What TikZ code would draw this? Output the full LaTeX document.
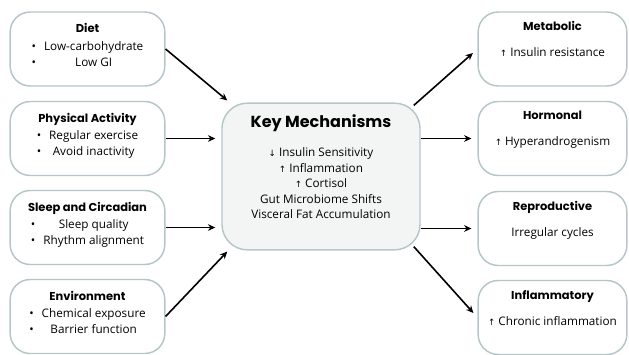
\documentclass[tikz,border=0pt]{standalone}
\usepackage{fontspec}
\setmainfont{Open Sans}
\newfontfamily\headfont{Poppins}
\newfontfamily\symfont{DejaVu Sans}
\usetikzlibrary{positioning,arrows.meta}
\definecolor{boxline}{HTML}{B5C6C8}
\definecolor{keyfill}{HTML}{F3F5F5}
\newcommand{\upar}{{\symfont\fontsize{6.5}{6.5}\selectfont ↑}}
\newcommand{\dnar}{{\symfont\fontsize{6.5}{6.5}\selectfont ↓}}
\newcommand{\headtxt}[1]{{\headfont\bfseries\fontsize{8.6}{12}\selectfont #1}}
\newcommand{\bullets}[2]{\begin{tabular}[t]{@{}c@{\hspace{6pt}}c@{}}• & #1\\ • & #2\end{tabular}}

\tikzset{
  factor/.style={draw=boxline, line width=1.1pt, rounded corners=15pt, fill=white,
    minimum width=116pt, minimum height=55.5pt, inner sep=0pt},
  outcome/.style={factor, minimum width=111.5pt},
  keybox/.style={factor, fill=keyfill, rounded corners=19pt,
    minimum width=148.5pt, minimum height=110pt},
  boxtext/.style={align=center, inner sep=0pt, font=\fontsize{8.8}{12}\selectfont},
  link/.style={-{Stealth[length=5.5pt,width=5pt]}, line width=1.2pt, shorten >=4.5pt}
}

\begin{document}
\begin{tikzpicture}[x=0.75pt,y=-0.75pt]
  \useasboundingbox (0,0) rectangle (629,354);

  \node[factor] (diet) at (87.5,49) {};
  \node[factor] (activity) at (87.5,138.5) {};
  \node[factor] (sleep) at (87.5,227.5) {};
  \node[factor] (environ) at (87.5,316.5) {};

  \node[keybox] (key) at (321,176.5) {};

  \node[outcome] (metab) at (552.5,49) {};
  \node[outcome] (hormon) at (552.5,138.5) {};
  \node[outcome] (reprod) at (552.5,228.5) {};
  \node[outcome] (inflam) at (552.5,317.5) {};

  \node[boxtext, below=9pt of diet.north] {\headtxt{Diet}\\[1pt]
    \bullets{Low-carbohydrate}{Low GI}};
  \node[boxtext, below=9pt of activity.north] {\headtxt{Physical Activity}\\[1pt]
    \bullets{Regular exercise}{Avoid inactivity}};
  \node[boxtext, below=9pt of sleep.north] {\headtxt{Sleep and Circadian}\\[1pt]
    \bullets{Sleep quality}{Rhythm alignment}};
  \node[boxtext, below=9pt of environ.north] {\headtxt{Environment}\\[1pt]
    \bullets{Chemical exposure}{Barrier function}};

  \node[boxtext, below=9pt of key.north, font=\fontsize{8.8}{11.7}\selectfont]
    {{\headfont\bfseries\fontsize{12}{14}\selectfont Key Mechanisms}\\[10pt]
     \dnar{} Insulin Sensitivity\\
     \upar{} Inflammation\\
     \upar{} Cortisol\\
     Gut Microbiome Shifts\\
     Visceral Fat Accumulation};

  \node[boxtext, below=7.5pt of metab.north] {\headtxt{Metabolic}\\[7.5pt]
    \upar{} Insulin resistance};
  \node[boxtext, below=7.5pt of hormon.north] {\headtxt{Hormonal}\\[7.5pt]
    \upar{} Hyperandrogenism};
  \node[boxtext, below=7.5pt of reprod.north] {\headtxt{Reproductive}\\[7.5pt]
    Irregular cycles};
  \node[boxtext, below=7.5pt of inflam.north] {\headtxt{Inflammatory}\\[7.5pt]
    \upar{} Chronic inflammation};

  \coordinate (inNW) at ([shift={(6,-2)}]key.north west);
  \coordinate (inSW) at ([shift={(6,1)}]key.south west);
  \coordinate (outNE) at ([shift={(-7,3)}]key.north east);
  \coordinate (outSE) at ([shift={(-7,-4)}]key.south east);

  \draw[link, shorten >=0pt] (diet.east) -- (inNW);
  \draw[link] (activity.east) -- (key.west |- activity.east);
  \draw[link] (sleep.east) -- (key.west |- sleep.east);
  \draw[link, shorten >=0pt] (environ.east) -- (inSW);

  \draw[link] (outNE) -- (metab.west);
  \draw[link] (key.east |- hormon.west) -- (hormon.west);
  \draw[link] (key.east |- reprod.west) -- (reprod.west);
  \draw[link] (outSE) -- (inflam.west);
\end{tikzpicture}
\end{document}
